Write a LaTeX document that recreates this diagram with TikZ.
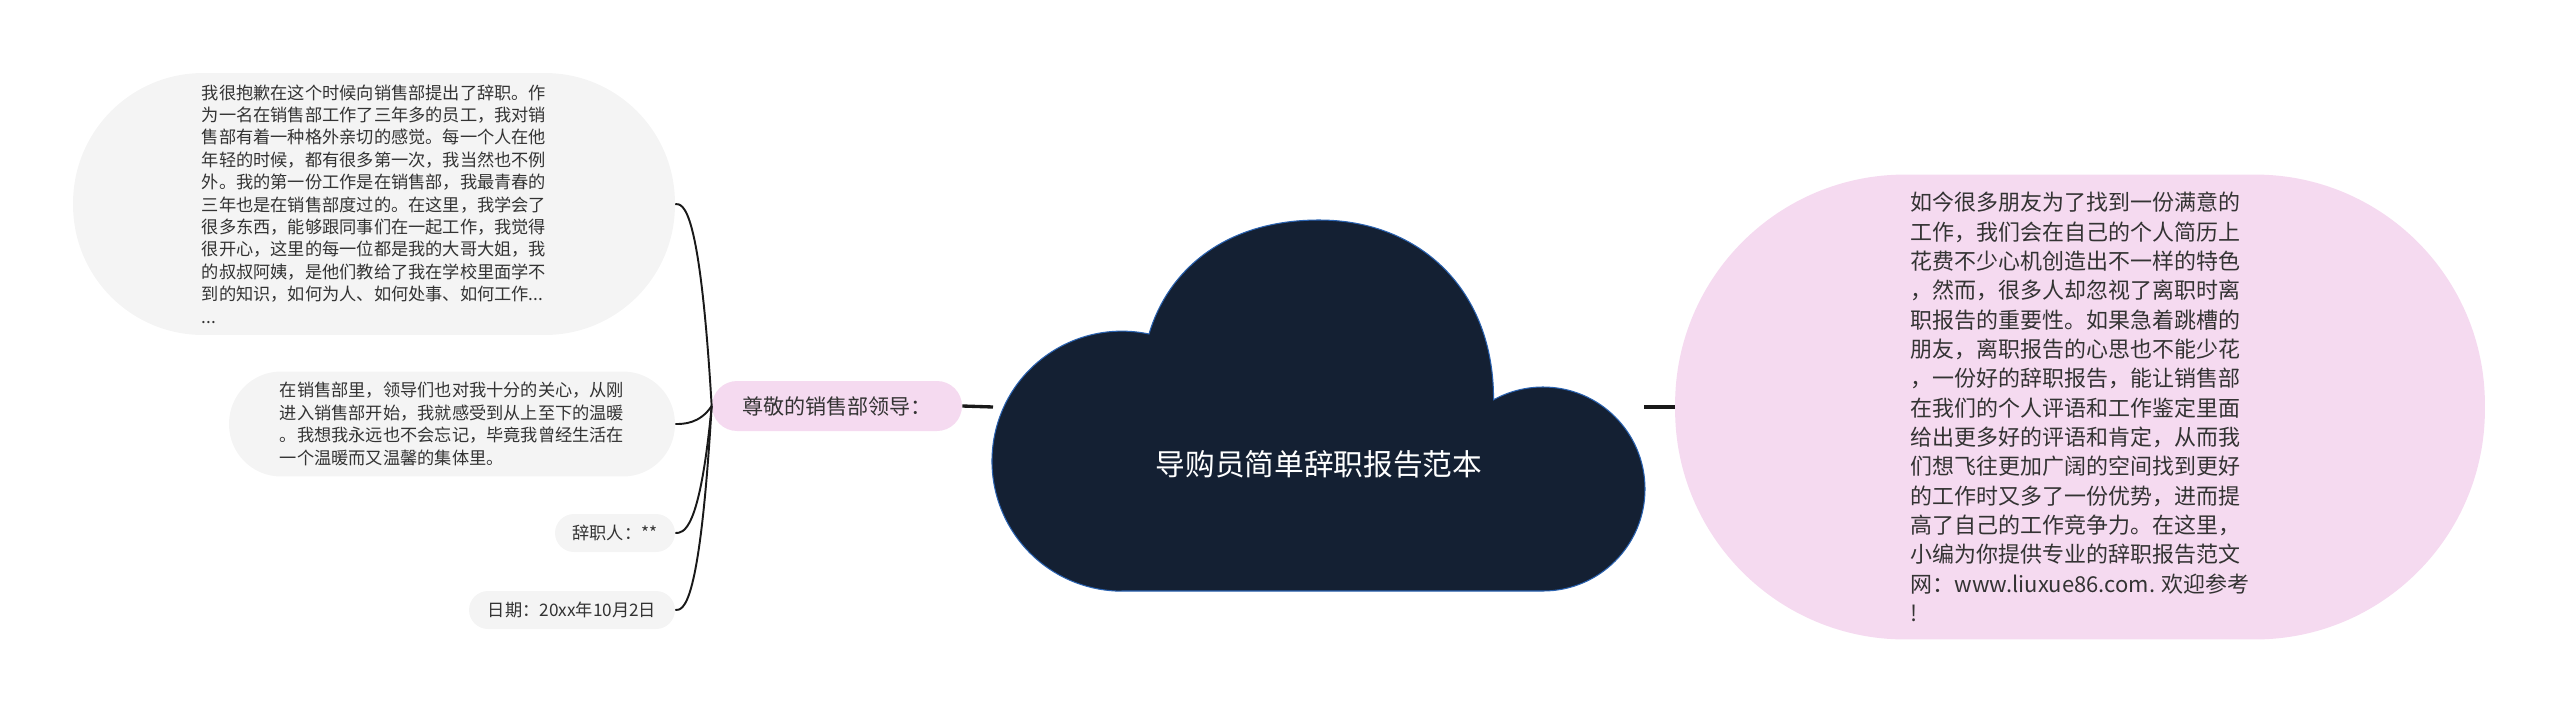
\documentclass[tikz,border=0pt]{standalone}
\usepackage{fontspec}
\setmainfont{Noto Sans CJK SC}
\usetikzlibrary{calc}

\definecolor{cloudnavy}{HTML}{142033}
\definecolor{cloudedge}{HTML}{2A62B0}
\definecolor{softpink}{HTML}{F5DAF0}
\definecolor{softgray}{HTML}{F4F4F4}
\definecolor{inkgray}{HTML}{333333}

\begin{document}
\begin{tikzpicture}[x=0.02cm, y=-0.02cm,
  bubble/.style={fill=softgray, text=inkgray, align=left, inner sep=0pt,
    font=\fontsize{9.8pt}{12.75pt}\selectfont},
  tag/.style={fill=softgray, text=inkgray, inner sep=0pt, minimum height=0.76cm,
    rounded corners=0.38cm, font=\fontsize{9.8pt}{12pt}\selectfont},
  branch/.style={black!90, line width=1.9pt},
  twig/.style={black!90, line width=1.1pt}]

\useasboundingbox (0,0) rectangle (2560,714);

% the cloud in the middle
\fill[cloudnavy, draw=cloudedge, line width=0.6pt]
  (1122,591) -- (1543,591) arc[start angle=90, end angle=-119, radius=102]
  .. controls (1494,290) and (1420,220) .. (1319,220)
  .. controls (1225,220) and (1168,270) .. (1149,334)
  arc[start angle=-78, end angle=-270, radius=130] -- cycle;
\node[text=white, font=\fontsize{16.9pt}{20pt}\selectfont] (title) at (1319,464) {导购员简单辞职报告范本};
\coordinate (cloudW) at (993,407);
\coordinate (cloudE) at (1644,407);

% right side
\node[fill=softpink, text=inkgray, align=left, inner sep=0pt, minimum width=16.2cm,
  minimum height=9.3cm, rounded corners=4.6cm,
  font=\fontsize{12.5pt}{16.7pt}\selectfont] (intro) at (2080,407)
  {如今很多朋友为了找到一份满意的\\
   工作，我们会在自己的个人简历上\\
   花费不少心机创造出不一样的特色\\
   ，然而，很多人却忽视了离职时离\\
   职报告的重要性。如果急着跳槽的\\
   朋友，离职报告的心思也不能少花\\
   ，一份好的辞职报告，能让销售部\\
   在我们的个人评语和工作鉴定里面\\
   给出更多好的评语和肯定，从而我\\
   们想飞往更加广阔的空间找到更好\\
   的工作时又多了一份优势，进而提\\
   高了自己的工作竞争力。在这里，\\
   小编为你提供专业的辞职报告范文\\
   网：www.liuxue86.com. 欢迎参考\\
   !};

% left side
\node[fill=softpink, text=inkgray, inner sep=0pt, minimum width=5cm, minimum height=1cm,
  rounded corners=0.5cm, font=\fontsize{12pt}{14pt}\selectfont] (lead) at (837,406) {尊敬的销售部领导：};

\node[bubble, minimum width=12.04cm, minimum height=5.24cm, rounded corners=2.6cm] (letter) at (374,204)
  {我很抱歉在这个时候向销售部提出了辞职。作\\
   为一名在销售部工作了三年多的员工，我对销\\
   售部有着一种格外亲切的感觉。每一个人在他\\
   年轻的时候，都有很多第一次，我当然也不例\\
   外。我的第一份工作是在销售部，我最青春的\\
   三年也是在销售部度过的。在这里，我学会了\\
   很多东西，能够跟同事们在一起工作，我觉得\\
   很开心，这里的每一位都是我的大哥大姐，我\\
   的叔叔阿姨，是他们教给了我在学校里面学不\\
   到的知识，如何为人、如何处事、如何工作...\\
   ...};
\node[bubble, minimum width=8.92cm, minimum height=2.1cm, rounded corners=1.04cm] (warmth) at (452,424)
  {在销售部里，领导们也对我十分的关心，从刚\\
   进入销售部开始，我就感受到从上至下的温暖\\
   。我想我永远也不会忘记，毕竟我曾经生活在\\
   一个温暖而又温馨的集体里。};
\node[tag, minimum width=2.4cm] (signer) at (615,533) {辞职人：**};
\node[tag, minimum width=4.12cm] (date) at (572,610) {日期：20xx年10月2日};

\draw[branch] (cloudW) -- (lead.east);
\draw[branch] (cloudE) -- (intro.west);
\foreach \leaf in {letter,warmth,signer,date}
  \draw[twig] (lead.west) .. controls ($(lead.west |- \leaf.east)+(-12,0)$) and ($(\leaf.east)+(8,0)$) .. (\leaf.east);

\end{tikzpicture}
\end{document}
